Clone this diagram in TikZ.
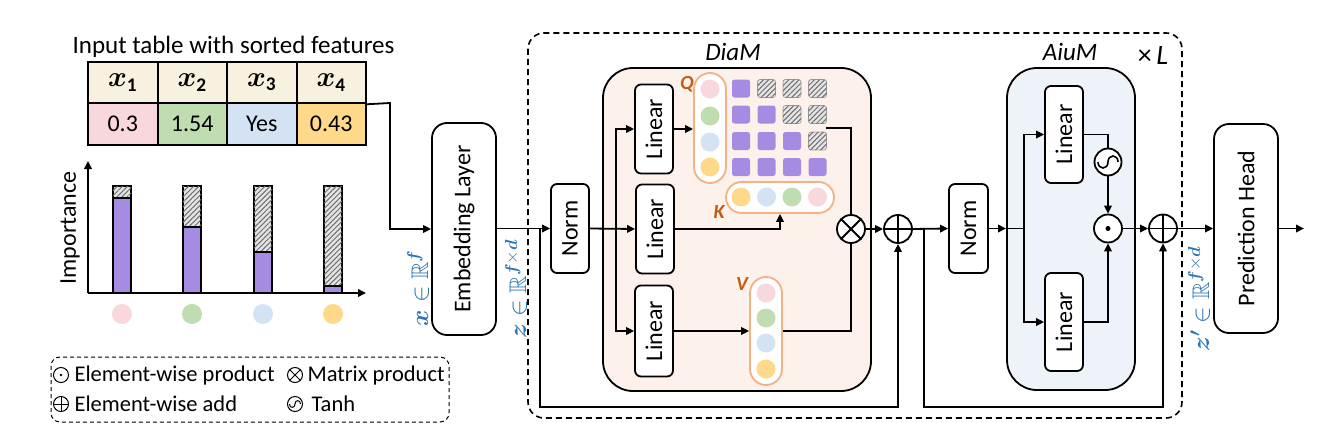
\documentclass[tikz,border=0pt]{standalone}
\usepackage{amsmath,amssymb,bm}
\usepackage{graphicx}
\usepackage{fontspec}
\setmainfont{Carlito}
\usetikzlibrary{arrows.meta,patterns.meta}
\definecolor{cpink}{HTML}{F8D7DD}
\definecolor{cgreen}{HTML}{BFDDB0}
\definecolor{cblue}{HTML}{D3E3F3}
\definecolor{cyel}{HTML}{FFD98A}
\definecolor{cbeige}{HTML}{F8F1E0}
\definecolor{cpurp}{HTML}{A68BE3}
\definecolor{diafill}{HTML}{FCF2EB}
\definecolor{aiufill}{HTML}{EEF3FA}
\definecolor{pillc}{HTML}{F4B183}
\definecolor{qkv}{HTML}{C55A11}
\definecolor{mblue}{HTML}{2E75B6}
\definecolor{hatchbg}{HTML}{E4E4E4}
\definecolor{hatchfg}{HTML}{6E6E6E}
\newcommand\fsz[1]{\fontsize{#1}{#1}\selectfont}
\tikzset{
  ln/.style={line width=1.8pt},
  arr/.style={line width=1.8pt, -{Triangle[length=8pt,width=7.5pt]}},
  blk/.style={draw, line width=1.8pt, rounded corners=6pt, fill=white, inner sep=0pt, font=\fsz{24}},
  tcell/.style={draw, line width=2pt, minimum width=69.5pt, minimum height=41.5pt, inner sep=0pt, font=\fsz{24}},
  pill/.style={draw=pillc, line width=1.8pt, fill=white, inner sep=0pt},
  dot/.style={circle, inner sep=0pt, minimum size=19pt},
  sq/.style={inner sep=0pt, minimum size=18pt, rounded corners=2.5pt, fill=cpurp},
  hsq/.style={inner sep=0pt, minimum size=18pt, rounded corners=2.5pt, draw=hatchfg!70, line width=0.6pt, fill=hatchbg,
     postaction={pattern={Lines[angle=45,distance=3.6pt,line width=1pt]}, pattern color=hatchfg}},
  hatch/.style={fill=hatchbg, postaction={pattern={Lines[angle=45,distance=3.6pt,line width=1pt]}, pattern color=hatchfg}},
  op/.style={circle, draw, line width=1.8pt, minimum size=28pt, inner sep=0pt, fill=white},
  opplus/.style={path picture={\draw[line width=1.8pt] (path picture bounding box.north) -- (path picture bounding box.south) (path picture bounding box.west) -- (path picture bounding box.east);}},
  optimes/.style={path picture={\draw[line width=1.8pt] (path picture bounding box.north east) -- (path picture bounding box.south west) (path picture bounding box.north west) -- (path picture bounding box.south east);}},
  opdot/.style={path picture={\fill[black] (path picture bounding box.center) circle (2.5pt);}},
  optanh/.style={path picture={\draw[line width=1.6pt, shift={(path picture bounding box.center)}] (-10,0) .. controls (-10,8) and (0,8) .. (0,0) .. controls (0,-8) and (10,-8) .. (10,0);}},
  lop/.style={circle, draw, line width=1pt, minimum size=15pt, inner sep=0pt},
  lplus/.style={path picture={\draw[line width=1pt] (path picture bounding box.north) -- (path picture bounding box.south) (path picture bounding box.west) -- (path picture bounding box.east);}},
  ltimes/.style={path picture={\draw[line width=1pt] (path picture bounding box.north east) -- (path picture bounding box.south west) (path picture bounding box.north west) -- (path picture bounding box.south east);}},
  ldot/.style={path picture={\fill[black] (path picture bounding box.center) circle (1.4pt);}},
  ltanh/.style={path picture={\draw[line width=1pt, shift={(path picture bounding box.center)}] (-5.5,0) .. controls (-5.5,4.5) and (0,4.5) .. (0,0) .. controls (0,-4.5) and (5.5,-4.5) .. (5.5,0);}},
  ltext/.style={anchor=west, font=\fsz{22.5}},
}
\begin{document}
\begin{tikzpicture}[x=1pt,y=-1pt]
\useasboundingbox (0,0) rectangle (1340,436);
% ---------------- input table
\node[font=\fsz{25}, anchor=base] (title) at (233.5,54) {Input table with sorted features};
\foreach \i/\c/\v in {1/cpink/0.3, 2/cgreen/1.54, 3/cblue/Yes, 4/cyel/0.43} {
  \node[tcell, fill=cbeige] (h\i) at ({88+69.5*(\i-0.5)},82.5) {\scalebox{1.15}{$\boldsymbol{x}_{\mathbf{\i}}$}};
  \node[tcell, fill=\c] (v\i) at ({88+69.5*(\i-0.5)},124) {\v};
}
% ---------------- bar chart
\coordinate (org) at (88,293);
\coordinate (ytop) at (88,161);
\coordinate (xend) at (366,293);
\draw[arr] (org) -- (ytop);
\draw[arr] (org) -- (xend);
\node[rotate=90, font=\fsz{24}] (imp) at (70,228) {Importance};
\foreach \x/\t/\c in {113/198/cpink, 183/227/cgreen, 254/252/cblue, 324/286/cyel} {
  \draw[line width=1.2pt, hatch] (\x,186) rectangle (\x+18,\t);
  \draw[line width=1.2pt, fill=cpurp] (\x,\t) rectangle (\x+18,293);
  \node[dot, fill=\c, minimum size=20pt] (bd\x) at (\x+9,314) {};
}
% ---------------- legend
\draw[line width=1pt, dashed, dash pattern=on 4pt off 3pt, rounded corners=9pt] (51,357) rectangle (449,422);
\node[lop, ldot] (lg1) at (61,375) {};
\node[ltext] (lt1) at (71,375) {Element-wise product};
\node[lop, ltimes] (lg2) at (295,375) {};
\node[ltext] (lt2) at (304,375) {Matrix product};
\node[lop, lplus] (lg3) at (61,404) {};
\node[ltext] (lt3) at (71,404) {Element-wise add};
\node[lop, ltanh] (lg4) at (295,404) {};
\node[ltext] (lt4) at (308,404) {Tanh};
% ---------------- embedding
\node[blk, minimum width=64pt, minimum height=212pt, rounded corners=15pt] (emb) at (464,229) {\rotatebox{90}{Embedding Layer}};
\coordinate (t1) at (390,103);
\draw[arr] (h4.south east) -- (t1) |- (emb.west);
\node[rotate=90, text=mblue, font=\fsz{24}] (xlab) at (418,288) {$\boldsymbol{x}\in\mathbb{R}^{\boldsymbol{f}}$};
\node[rotate=90, text=mblue, font=\fsz{24}] (zlab) at (516,289) {$\boldsymbol{z}\in\mathbb{R}^{\boldsymbol{f}\times\boldsymbol{d}}$};
% ---------------- outer dashed block
\draw[line width=1.6pt, dash pattern=on 6pt off 4pt, rounded corners=16pt] (528,33) rectangle (1182,418);
\node[font=\fsz{28}, anchor=base] (xL) at (1153,64) {×\,\textit{L}};
% ---------------- DiaM
\node[draw, line width=1.8pt, fill=diafill, rounded corners=30pt, minimum width=268pt, minimum height=323pt, inner sep=0pt] (diam) at (737,229.5) {};
\node[font=\itshape\fsz{25}, anchor=base] (diamlab) at (733,60) {DiaM};
\node[blk, minimum width=38pt, minimum height=89pt] (norm1) at (570,228.5) {\rotatebox{90}{Norm}};
\node[blk, minimum width=38pt, minimum height=89pt] (l1) at (654,129) {\rotatebox{90}{Linear}};
\node[blk, minimum width=38pt, minimum height=89pt] (l2) at (655,229) {\rotatebox{90}{Linear}};
\node[blk, minimum width=38pt, minimum height=91pt] (l3) at (654,331) {\rotatebox{90}{Linear}};
% Q pill
\node[pill, rounded corners=16pt, minimum width=32pt, minimum height=110pt] (Q) at (710,128) {};
\foreach \y/\c [count=\k] in {89/cpink, 116/cgreen, 142/cblue, 167/cyel}
  \node[dot, fill=\c] (q\k) at (710,\y) {};
\node[font=\bfseries\itshape\fsz{20}, text=qkv] (Qlab) at (687,84) {Q};
% matrix
\foreach \y [count=\r] in {88.5,114.5,141,167} {
  \foreach \x [count=\c] in {741,766.5,792,817.5} {
    \ifnum\c>\r
      \node[hsq] (m\r\c) at (\x,\y) {};
    \else
      \node[sq] (m\r\c) at (\x,\y) {};
    \fi
  }
}
\coordinate (mR) at (826,128);
% K pill
\node[pill, rounded corners=15.5pt, minimum width=108pt, minimum height=31pt] (K) at (780,197.5) {};
\foreach \x/\c [count=\k] in {741/cyel, 766.5/cblue, 792/cgreen, 817.5/cpink}
  \node[dot, fill=\c] (k\k) at (\x,197) {};
\node[font=\bfseries\itshape\fsz{20}, text=qkv] (Klab) at (719,212) {K};
% V pill
\node[pill, rounded corners=16pt, minimum width=32pt, minimum height=108pt] (V) at (766,331) {};
\foreach \y/\c [count=\k] in {293/cpink, 318/cgreen, 343/cblue, 369/cyel}
  \node[dot, fill=\c] (vv\k) at (766,\y) {};
\node[font=\bfseries\itshape\fsz{20}, text=qkv] (Vlab) at (742,284) {V};
% ops
\node[op, optimes] (otimes) at (851,229) {};
\node[op, opplus] (oplus1) at (898,229) {};
% DiaM connectors
\draw[arr] (emb.east |- norm1.west) -- (norm1.west);
\coordinate (b1) at (616,228.5);
\draw[arr] (norm1.east) -- (l2.west);
\draw[arr] (b1) |- (l1.west);
\draw[arr] (b1) |- (l3.west);
\draw[arr] (l1.east) -- (Q.west |- l1.east);
\draw[arr] (l2.east) -| (K.south);
\draw[arr] (l3.east) -- (V.west);
\draw[ln] (mR) -| (otimes.north);
\draw[ln] (V.east) -| (otimes.south);
\draw[arr] (otimes.east) -- (oplus1.west);
\coordinate (s1) at (540,228.5);
\coordinate (s1d) at (540,407);
\draw[arr] (s1) -- (s1d) -| (oplus1.south);
% ---------------- AiuM
\node[draw, line width=1.8pt, fill=aiufill, rounded corners=30pt, minimum width=128pt, minimum height=322pt, inner sep=0pt] (aium) at (1071,229) {};
\node[font=\itshape\fsz{25}, anchor=base] (aiumlab) at (1070,60) {AiuM};
\node[blk, minimum width=39pt, minimum height=89pt] (norm2) at (968.5,228.5) {\rotatebox{90}{Norm}};
\node[blk, minimum width=38pt, minimum height=97pt] (a1) at (1064,134.5) {\rotatebox{90}{Linear}};
\node[blk, minimum width=38pt, minimum height=98pt] (a2) at (1064,322) {\rotatebox{90}{Linear}};
\node[op, optanh, minimum size=27pt] (tanh) at (1108,162) {};
\node[op, opdot] (odot) at (1108,228.5) {};
\node[op, opplus] (oplus2) at (1163,228.5) {};
\draw[arr] (oplus1.east) -- (norm2.west);
\coordinate (s2) at (924,228.5);
\coordinate (s2d) at (924,407);
\draw[arr] (s2) -- (s2d) -| (oplus2.south);
\coordinate (ain) at (1006,228.5);
\coordinate (b2) at (1024,228.5);
\draw[arr] (norm2.east) -- (ain);
\draw[ln] (ain) -- (b2);
\draw[arr] (b2) |- (a1.west);
\draw[arr] (b2) |- (a2.west);
\draw[ln] (a1.east) -| (tanh.north);
\draw[arr] (tanh.south) -- (odot.north);
\draw[arr] (a2.east) -| (odot.south);
\draw[arr] (odot.east) -- (oplus2.west);
% ---------------- prediction head
\node[blk, minimum width=64pt, minimum height=209pt, rounded corners=15pt] (ph) at (1246,228.5) {\rotatebox{90}{Prediction Head}};
\draw[arr] (oplus2.east) -- (ph.west);
\coordinate (out) at (1304,228.5);
\draw[arr] (ph.east) -- (out);
\node[rotate=90, text=mblue, font=\fsz{24}] (zplab) at (1199,299) {$\boldsymbol{z'}\in\mathbb{R}^{\boldsymbol{f}\times\boldsymbol{d}}$};
\end{tikzpicture}
\end{document}
